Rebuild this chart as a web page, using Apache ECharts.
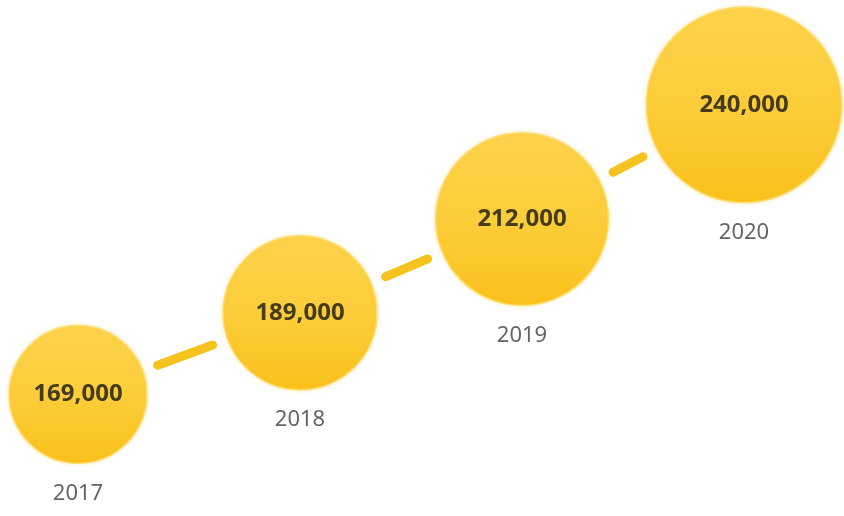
<!DOCTYPE html>
<html>
<head>
<meta charset="utf-8">
<script src="https://cdn.jsdelivr.net/npm/echarts@6/dist/echarts.min.js"></script>
<style>html,body{margin:0;padding:0;background:#fff;}#c{width:844px;height:516px;}</style>
</head>
<body>
<div id="c"></div>
<script>
const years = ['2017', '2018', '2019', '2020'];
const values = [169000, 189000, 212000, 240000];
const valueLabels = ['169,000', '189,000', '212,000', '240,000'];

const sizeOf = v => v / 1000 * 0.815;
const chart = echarts.init(document.getElementById('c'));

const bubbleFill = new echarts.graphic.LinearGradient(0, 0, 0, 1, [
  { offset: 0, color: '#fdd34c' },
  { offset: 0.5, color: '#fccd3a' },
  { offset: 1, color: '#fac11c' }
]);

chart.setOption({
  backgroundColor: '#ffffff',
  animation: false,
  grid: { left: 78, right: 100, top: 64, bottom: 44 },
  xAxis: { type: 'category', data: years, boundaryGap: false, show: false },
  yAxis: { type: 'value', min: 150000, max: 250000, show: false },
  series: [
    {
      type: 'custom',
      z: 1,
      data: values.slice(0, -1).map((v, i) => [i, v, values[i + 1]]),
      renderItem: function (params, api) {
        const i = api.value(0);
        const v0 = api.value(1), v1 = api.value(2);
        const p0 = api.coord([i, v0]);
        const p1 = api.coord([i + 1, v1]);
        const dx = p1[0] - p0[0], dy = p1[1] - p0[1];
        const len = Math.sqrt(dx * dx + dy * dy);
        const ux = dx / len, uy = dy / len;
        const s0 = sizeOf(v0) / 2 + 6 + 10;
        const s1 = sizeOf(v1) / 2 + 6 + 10;
        return {
          type: 'line',
          shape: {
            x1: p0[0] + ux * s0, y1: p0[1] + uy * s0,
            x2: p1[0] - ux * s1, y2: p1[1] - uy * s1
          },
          style: { stroke: '#f5c31e', lineWidth: 9, lineCap: 'round' }
        };
      }
    },
    {
      type: 'scatter',
      z: 3,
      data: values,
      symbolSize: v => sizeOf(v),
      itemStyle: {
        color: bubbleFill,
        borderColor: '#fddc70',
        borderWidth: 1.5,
        shadowBlur: 4,
        shadowColor: 'rgba(250,200,40,0.3)',
        opacity: 1
      },
      label: {
        show: true,
        position: 'inside',
        formatter: p => valueLabels[p.dataIndex],
        fontFamily: 'Noto Sans',
        fontWeight: 'bold',
        fontSize: 24,
        color: '#453c1e'
      },
      emphasis: { disabled: true }
    },
    {
      type: 'scatter',
      z: 2,
      data: values,
      symbolSize: v => sizeOf(v),
      itemStyle: { color: 'transparent' },
      label: {
        show: true,
        position: 'bottom',
        distance: 19,
        formatter: p => years[p.dataIndex],
        fontFamily: 'Noto Sans',
        fontSize: 22,
        color: '#3d3d3d'
      },
      emphasis: { disabled: true }
    }
  ]
});
</script>
</body>
</html>
